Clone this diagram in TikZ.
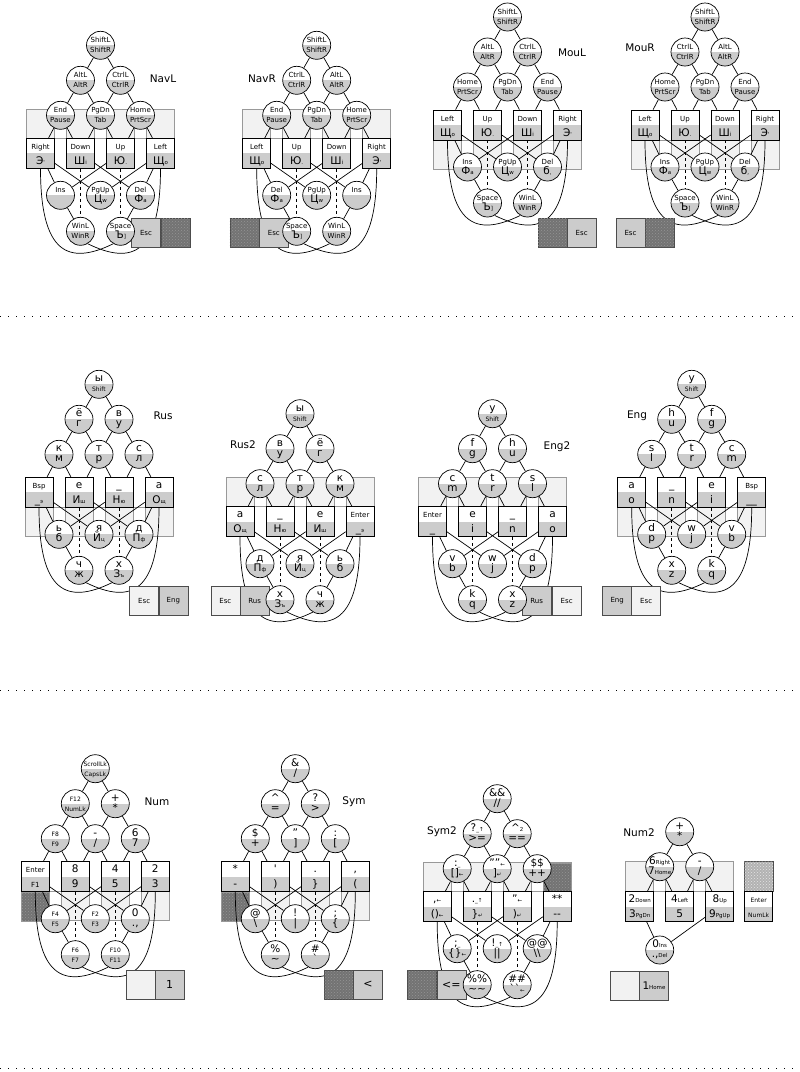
\documentclass[tikz,border=0pt]{standalone}
\usepackage{fontspec}
\setmainfont{DejaVu Sans}
\usetikzlibrary{backgrounds, patterns}

\newcommand\bigch[1]{{\fontsize{10.5}{11}\selectfont #1}}
\newcommand\smch[1]{{\fontsize{5.5}{6}\selectfont #1}}
\newcommand\tinych[1]{{\fontsize{6}{6.5}\selectfont #1}}

\tikzset{
  wire/.style={line width=0.7pt},
  halfgrey/.style={path picture={\fill[black!20] (path picture bounding box.west) rectangle (path picture bounding box.south east);}},
  hub/.style={circle, draw, line width=0.7pt, fill=white, halfgrey, minimum size=28pt, inner sep=0pt},
  capbox/.style={rectangle, draw, line width=0.7pt, fill=white, halfgrey, minimum width=28pt, minimum height=30pt, inner sep=0pt},
  toptext/.style={anchor=base, inner sep=0pt, font=\fontsize{7}{8}\selectfont},
  bottext/.style={anchor=base, inner sep=0pt, font=\fontsize{7}{8}\selectfont},
  boxtag/.style={rectangle, draw=black!70, line width=0.6pt, minimum width=29pt, minimum height=29pt, inner sep=0pt, font=\fontsize{7}{8}\selectfont},
  lighttag/.style={boxtag, fill=black!5},
  greytag/.style={boxtag, fill=black!20},
  grain/.style={fill=black!55, postaction={pattern=crosshatch dots, pattern color=black!42}},
  speckle/.style={fill=black!30, postaction={pattern=crosshatch dots, pattern color=black!10}},
  noisetag/.style={boxtag, grain},
  layername/.style={font=\fontsize{10.5}{12}\selectfont, inner sep=0pt},
  rowline/.style={line width=1pt, dash pattern=on 1pt off 7pt},
}

% circle with two labels
\newcommand\hubnode[5]{%
  \node[hub] (#1) at (#2,#3) {};
  \node[toptext] (#1t) at ([yshift=2.5pt]#1.center) {#4};
  \node[bottext] (#1b) at ([yshift=-7.5pt]#1.center) {#5};}
% key with two labels
\newcommand\capnode[5]{%
  \node[capbox] (#1) at (#2,#3) {};
  \node[toptext] (#1t) at ([yshift=4pt]#1.center) {#4};
  \node[bottext] (#1b) at ([yshift=-11pt]#1.center) {#5};}
% light band behind the keys
\newcommand\bandat[1]{%
  \draw[black!40, fill=black!5, line width=0.6pt] (\kx-14,#1) rectangle (\kx+134,#1+29);
  \foreach \gp in {0,40,80}
    \draw[black!40, fill=white, line width=0.6pt] (\kx+14+\gp,#1) rectangle (\kx+26+\gp,#1+29);}
% all connectors of one layout
\newcommand\wirenet[1]{%
  \draw[wire] (#1r1) -- (#1r2a) (#1r1) -- (#1r2b)
    (#1r2a) -- (#1r3a) (#1r2a) -- (#1r3b) (#1r2b) -- (#1r3b) (#1r2b) -- (#1r3c)
    (#1r3a) -- (#1k0) (#1r3a) -- (#1k1) (#1r3b) -- (#1k1) (#1r3b) -- (#1k2)
    (#1r3c) -- (#1k2) (#1r3c) -- (#1k3)
    (#1k0) -- (#1la) (#1k2) -- (#1la) (#1k0) -- (#1lb) (#1k3) -- (#1lb)
    (#1k1) -- (#1lc) (#1k3) -- (#1lc)
    (#1la) -- (#1ba) (#1lc) -- (#1bb);
  \draw[wire, dashed] (#1k1) -- (#1ba) (#1k2) -- (#1bb);
  \draw[wire] (#1k0.south) .. controls +(0,85) and +(-45,22) .. (#1bb.-120);
  \draw[wire] (#1k3.south) .. controls +(0,85) and +(45,22) .. (#1ba.-60);}

\begin{document}
\begin{tikzpicture}[x=1pt, y=-1pt]
\useasboundingbox (0,0) rectangle (800,1072);

% ---- NavL
\def\kx{40.5}\def\ky{138.3}
\node[greytag] (nlesc) at (146,233) {Esc};
\node[noisetag] (nlgrain) at (175.3,233) {};
\hubnode{nlr1}{\kx+60}{\ky-93}{ShiftL}{ShiftR}
\hubnode{nlr2a}{\kx+40}{\ky-58}{AltL}{AltR}
\hubnode{nlr2b}{\kx+80}{\ky-58}{CtrlL}{CtrlR}
\hubnode{nlr3a}{\kx+20}{\ky-23}{End}{Pause}
\hubnode{nlr3b}{\kx+60}{\ky-23}{PgDn}{Tab}
\hubnode{nlr3c}{\kx+100}{\ky-23}{Home}{PrtScr}
\capnode{nlk0}{\kx}{\ky+15}{Right}{\bigch{Э}\smch{\textquotesingle}}
\capnode{nlk1}{\kx+40}{\ky+15}{Down}{\bigch{Ш}\smch{i}}
\capnode{nlk2}{\kx+80}{\ky+15}{Up}{\bigch{Ю}\smch{.}}
\capnode{nlk3}{\kx+120}{\ky+15}{Left}{\bigch{Щ}\smch{o}}
\hubnode{nlla}{\kx+20}{\ky+57}{Ins}{}
\hubnode{nllb}{\kx+60}{\ky+57}{PgUp}{\bigch{Ц}\smch{w}}
\hubnode{nllc}{\kx+100}{\ky+57}{Del}{\bigch{Ф}\smch{a}}
\hubnode{nlba}{\kx+40}{\ky+93}{WinL}{WinR}
\hubnode{nlbb}{\kx+80}{\ky+93}{Space}{\bigch{Ъ}\smch{]}}
\node[layername] (nlname) at (163,79) {NavL};
\begin{scope}[on background layer]
  \bandat{\ky-29}
  \wirenet{nl}
\end{scope}

% ---- NavR
\def\kx{256.7}\def\ky{138.3}
\node[noisetag] (nrgrain) at (244.3,233) {};
\node[greytag] (nresc) at (273.8,233) {Esc};
\hubnode{nrr1}{\kx+60}{\ky-93}{ShiftL}{ShiftR}
\hubnode{nrr2a}{\kx+40}{\ky-58}{CtrlL}{CtrlR}
\hubnode{nrr2b}{\kx+80}{\ky-58}{AltL}{AltR}
\hubnode{nrr3a}{\kx+20}{\ky-23}{End}{Pause}
\hubnode{nrr3b}{\kx+60}{\ky-23}{PgDn}{Tab}
\hubnode{nrr3c}{\kx+100}{\ky-23}{Home}{PrtScr}
\capnode{nrk0}{\kx}{\ky+15}{Left}{\bigch{Щ}\smch{o}}
\capnode{nrk1}{\kx+40}{\ky+15}{Up}{\bigch{Ю}\smch{.}}
\capnode{nrk2}{\kx+80}{\ky+15}{Down}{\bigch{Ш}\smch{i}}
\capnode{nrk3}{\kx+120}{\ky+15}{Right}{\bigch{Э}\smch{\textquotesingle}}
\hubnode{nrla}{\kx+20}{\ky+57}{Del}{\bigch{Ф}\smch{a}}
\hubnode{nrlb}{\kx+60}{\ky+57}{PgUp}{\bigch{Ц}\smch{w}}
\hubnode{nrlc}{\kx+100}{\ky+57}{Ins}{}
\hubnode{nrba}{\kx+40}{\ky+93}{Space}{\bigch{Ъ}\smch{]}}
\hubnode{nrbb}{\kx+80}{\ky+93}{WinL}{WinR}
\node[layername] (nrname) at (262,79) {NavR};
\begin{scope}[on background layer]
  \bandat{\ky-29}
  \wirenet{nr}
\end{scope}

% ---- MouL
\def\kx{447.5}\def\ky{110}
\node[noisetag] (mlgrain) at (552.5,233) {};
\node[greytag] (mlesc) at (581.7,233) {Esc};
\hubnode{mlr1}{\kx+60}{\ky-93}{ShiftL}{ShiftR}
\hubnode{mlr2a}{\kx+40}{\ky-58}{AltL}{AltR}
\hubnode{mlr2b}{\kx+80}{\ky-58}{CtrlL}{CtrlR}
\hubnode{mlr3a}{\kx+20}{\ky-23}{Home}{PrtScr}
\hubnode{mlr3b}{\kx+60}{\ky-23}{PgDn}{Tab}
\hubnode{mlr3c}{\kx+100}{\ky-23}{End}{Pause}
\capnode{mlk0}{\kx}{\ky+15}{Left}{\bigch{Щ}\smch{o}}
\capnode{mlk1}{\kx+40}{\ky+15}{Up}{\bigch{Ю}\smch{.}}
\capnode{mlk2}{\kx+80}{\ky+15}{Down}{\bigch{Ш}\smch{i}}
\capnode{mlk3}{\kx+120}{\ky+15}{Right}{\bigch{Э}\smch{\textquotesingle}}
\hubnode{mlla}{\kx+20}{\ky+57}{Ins}{\bigch{Ф}\smch{a}}
\hubnode{mllb}{\kx+60}{\ky+57}{PgUp}{\bigch{Ц}\smch{w}}
\hubnode{mllc}{\kx+100}{\ky+57}{Del}{\bigch{б}\smch{,}}
\hubnode{mlba}{\kx+40}{\ky+93}{Space}{\bigch{Ъ}\smch{]}}
\hubnode{mlbb}{\kx+80}{\ky+93}{WinL}{WinR}
\node[layername] (mlname) at (572,53) {MouL};
\begin{scope}[on background layer]
  \bandat{\ky+30}
  \wirenet{ml}
\end{scope}

% ---- MouR
\def\kx{645}\def\ky{110}
\node[greytag] (mresc) at (630.5,233) {Esc};
\node[noisetag] (mrgrain) at (659.5,233) {};
\hubnode{mrr1}{\kx+60}{\ky-93}{ShiftL}{ShiftR}
\hubnode{mrr2a}{\kx+40}{\ky-58}{CtrlL}{CtrlR}
\hubnode{mrr2b}{\kx+80}{\ky-58}{AltL}{AltR}
\hubnode{mrr3a}{\kx+20}{\ky-23}{Home}{PrtScr}
\hubnode{mrr3b}{\kx+60}{\ky-23}{PgDn}{Tab}
\hubnode{mrr3c}{\kx+100}{\ky-23}{End}{Pause}
\capnode{mrk0}{\kx}{\ky+15}{Left}{\bigch{Щ}\smch{o}}
\capnode{mrk1}{\kx+40}{\ky+15}{Up}{\bigch{Ю}\smch{.}}
\capnode{mrk2}{\kx+80}{\ky+15}{Down}{\bigch{Ш}\smch{i}}
\capnode{mrk3}{\kx+120}{\ky+15}{Right}{\bigch{Э}\smch{\textquotesingle}}
\hubnode{mrla}{\kx+20}{\ky+57}{Ins}{\bigch{Ф}\smch{a}}
\hubnode{mrlb}{\kx+60}{\ky+57}{PgUp}{\bigch{Ц}\smch{w}}
\hubnode{mrlc}{\kx+100}{\ky+57}{Del}{\bigch{б}\smch{,}}
\hubnode{mrba}{\kx+40}{\ky+93}{Space}{\bigch{Ъ}\smch{]}}
\hubnode{mrbb}{\kx+80}{\ky+93}{WinL}{WinR}
\node[layername] (mrname) at (640,48) {MouR};
\begin{scope}[on background layer]
  \bandat{\ky+30}
  \wirenet{mr}
\end{scope}

\draw[rowline] (0,316) -- (800,316);

% ---- Rus
\def\kx{39}\def\ky{477.3}
\node[lighttag] (ruesc) at (144.2,600.8) {Esc};
\node[greytag] (rueng) at (173.3,600.8) {Eng};
\hubnode{rur1}{\kx+60}{\ky-93}{\bigch{ы}}{\tinych{Shift}}
\hubnode{rur2a}{\kx+40}{\ky-58}{\bigch{ё}}{\bigch{г}}
\hubnode{rur2b}{\kx+80}{\ky-58}{\bigch{в}}{\bigch{у}}
\hubnode{rur3a}{\kx+20}{\ky-23}{\bigch{к}}{\bigch{м}}
\hubnode{rur3b}{\kx+60}{\ky-23}{\bigch{т}}{\bigch{р}}
\hubnode{rur3c}{\kx+100}{\ky-23}{\bigch{с}}{\bigch{л}}
\capnode{ruk0}{\kx}{\ky+15}{Bsp}{\bigch{\_}\smch{э}}
\capnode{ruk1}{\kx+40}{\ky+15}{\bigch{е}}{\bigch{И}\smch{ш}}
\capnode{ruk2}{\kx+80}{\ky+15}{\bigch{\_}}{\bigch{Н}\smch{ю}}
\capnode{ruk3}{\kx+120}{\ky+15}{\bigch{а}}{\bigch{О}\smch{щ}}
\hubnode{rula}{\kx+20}{\ky+57}{\bigch{ь}}{\bigch{б}}
\hubnode{rulb}{\kx+60}{\ky+57}{\bigch{я}}{\bigch{Й}\smch{ц}}
\hubnode{rulc}{\kx+100}{\ky+57}{\bigch{д}}{\bigch{П}\smch{ф}}
\hubnode{ruba}{\kx+40}{\ky+93}{\bigch{ч}}{\bigch{ж}}
\hubnode{rubb}{\kx+80}{\ky+93}{\bigch{х}}{\bigch{З}\smch{ъ}}
\node[layername] (runame) at (163,416) {Rus};
\begin{scope}[on background layer]
  \bandat{\ky+30}
  \wirenet{ru}
\end{scope}

% ---- Rus2
\def\kx{240}\def\ky{506.7}
\node[lighttag] (rtesc) at (225.3,600.8) {Esc};
\node[greytag] (rtrus) at (254.7,600.8) {Rus};
\hubnode{rtr1}{\kx+60}{\ky-93}{\bigch{ы}}{\tinych{Shift}}
\hubnode{rtr2a}{\kx+40}{\ky-58}{\bigch{в}}{\bigch{у}}
\hubnode{rtr2b}{\kx+80}{\ky-58}{\bigch{ё}}{\bigch{г}}
\hubnode{rtr3a}{\kx+20}{\ky-23}{\bigch{с}}{\bigch{л}}
\hubnode{rtr3b}{\kx+60}{\ky-23}{\bigch{т}}{\bigch{р}}
\hubnode{rtr3c}{\kx+100}{\ky-23}{\bigch{к}}{\bigch{м}}
\capnode{rtk0}{\kx}{\ky+15}{\bigch{а}}{\bigch{О}\smch{щ}}
\capnode{rtk1}{\kx+40}{\ky+15}{\bigch{\_}}{\bigch{Н}\smch{ю}}
\capnode{rtk2}{\kx+80}{\ky+15}{\bigch{е}}{\bigch{И}\smch{ш}}
\capnode{rtk3}{\kx+120}{\ky+15}{Enter}{\bigch{\_}\smch{э}}
\hubnode{rtla}{\kx+20}{\ky+57}{\bigch{д}}{\bigch{П}\smch{ф}}
\hubnode{rtlb}{\kx+60}{\ky+57}{\bigch{я}}{\bigch{Й}\smch{ц}}
\hubnode{rtlc}{\kx+100}{\ky+57}{\bigch{ь}}{\bigch{б}}
\hubnode{rtba}{\kx+40}{\ky+93}{\bigch{х}}{\bigch{З}\smch{ъ}}
\hubnode{rtbb}{\kx+80}{\ky+93}{\bigch{ч}}{\bigch{ж}}
\node[layername] (rtname) at (243,445) {Rus2};
\begin{scope}[on background layer]
  \bandat{\ky-29}
  \wirenet{rt}
\end{scope}

% ---- Eng2
\def\kx{432.5}\def\ky{506.7}
\node[greytag] (etrus) at (536.7,600.8) {Rus};
\node[lighttag] (etesc) at (566.7,600.8) {Esc};
\hubnode{etr1}{\kx+60}{\ky-93}{\bigch{y}}{\tinych{Shift}}
\hubnode{etr2a}{\kx+40}{\ky-58}{\bigch{f}}{\bigch{g}}
\hubnode{etr2b}{\kx+80}{\ky-58}{\bigch{h}}{\bigch{u}}
\hubnode{etr3a}{\kx+20}{\ky-23}{\bigch{c}}{\bigch{m}}
\hubnode{etr3b}{\kx+60}{\ky-23}{\bigch{t}}{\bigch{r}}
\hubnode{etr3c}{\kx+100}{\ky-23}{\bigch{s}}{\bigch{l}}
\capnode{etk0}{\kx}{\ky+15}{Enter}{\bigch{\_}}
\capnode{etk1}{\kx+40}{\ky+15}{\bigch{e}}{\bigch{i}}
\capnode{etk2}{\kx+80}{\ky+15}{\bigch{\_}}{\bigch{n}}
\capnode{etk3}{\kx+120}{\ky+15}{\bigch{a}}{\bigch{o}}
\hubnode{etla}{\kx+20}{\ky+57}{\bigch{v}}{\bigch{b}}
\hubnode{etlb}{\kx+60}{\ky+57}{\bigch{w}}{\bigch{j}}
\hubnode{etlc}{\kx+100}{\ky+57}{\bigch{d}}{\bigch{p}}
\hubnode{etba}{\kx+40}{\ky+93}{\bigch{k}}{\bigch{q}}
\hubnode{etbb}{\kx+80}{\ky+93}{\bigch{x}}{\bigch{z}}
\node[layername] (etname) at (557,447) {Eng2};
\begin{scope}[on background layer]
  \bandat{\ky-29}
  \wirenet{et}
\end{scope}

% ---- Eng
\def\kx{631.7}\def\ky{477.3}
\node[greytag] (eneng) at (617.2,600.8) {Eng};
\node[lighttag] (enesc) at (646.2,600.8) {Esc};
\hubnode{enr1}{\kx+60}{\ky-93}{\bigch{y}}{\tinych{Shift}}
\hubnode{enr2a}{\kx+40}{\ky-58}{\bigch{h}}{\bigch{u}}
\hubnode{enr2b}{\kx+80}{\ky-58}{\bigch{f}}{\bigch{g}}
\hubnode{enr3a}{\kx+20}{\ky-23}{\bigch{s}}{\bigch{l}}
\hubnode{enr3b}{\kx+60}{\ky-23}{\bigch{t}}{\bigch{r}}
\hubnode{enr3c}{\kx+100}{\ky-23}{\bigch{c}}{\bigch{m}}
\capnode{enk0}{\kx}{\ky+15}{\bigch{a}}{\bigch{o}}
\capnode{enk1}{\kx+40}{\ky+15}{\bigch{\_}}{\bigch{n}}
\capnode{enk2}{\kx+80}{\ky+15}{\bigch{e}}{\bigch{i}}
\capnode{enk3}{\kx+120}{\ky+15}{Bsp}{\bigch{\_\_}}
\hubnode{enla}{\kx+20}{\ky+57}{\bigch{d}}{\bigch{p}}
\hubnode{enlb}{\kx+60}{\ky+57}{\bigch{w}}{\bigch{j}}
\hubnode{enlc}{\kx+100}{\ky+57}{\bigch{v}}{\bigch{b}}
\hubnode{enba}{\kx+40}{\ky+93}{\bigch{x}}{\bigch{z}}
\hubnode{enbb}{\kx+80}{\ky+93}{\bigch{k}}{\bigch{q}}
\node[layername] (enname) at (637,416) {Eng};
\begin{scope}[on background layer]
  \bandat{\ky+30}
  \wirenet{en}
\end{scope}

\draw[rowline] (0,690) -- (800,690);

% ---- Num
\def\kx{35.3}\def\ky{861.7}
\node[lighttag] (nmblank) at (140.5,984.7) {};
\node[greytag, font=\fontsize{11}{12}\selectfont] (nmone) at (169.5,984.7) {1};
\hubnode{nmr1}{\kx+60}{\ky-93}{\tinych{ScrollLk}}{\tinych{CapsLk}}
\hubnode{nmr2a}{\kx+40}{\ky-58}{\tinych{F12}}{\tinych{NumLk}}
\hubnode{nmr2b}{\kx+80}{\ky-58}{\bigch{+}}{\bigch{*}}
\hubnode{nmr3a}{\kx+20}{\ky-23}{\tinych{F8}}{\tinych{F9}}
\hubnode{nmr3b}{\kx+60}{\ky-23}{\bigch{-}}{\bigch{/}}
\hubnode{nmr3c}{\kx+100}{\ky-23}{\bigch{6}}{\bigch{7}}
\capnode{nmk0}{\kx}{\ky+15}{Enter}{F1}
\capnode{nmk1}{\kx+40}{\ky+15}{\bigch{8}}{\bigch{9}}
\capnode{nmk2}{\kx+80}{\ky+15}{\bigch{4}}{\bigch{5}}
\capnode{nmk3}{\kx+120}{\ky+15}{\bigch{2}}{\bigch{3}}
\hubnode{nmla}{\kx+20}{\ky+57}{\tinych{F4}}{\tinych{F5}}
\hubnode{nmlb}{\kx+60}{\ky+57}{\tinych{F2}}{\tinych{F3}}
\hubnode{nmlc}{\kx+100}{\ky+57}{\bigch{0}}{\bigch{.,}}
\hubnode{nmba}{\kx+40}{\ky+93}{\tinych{F6}}{\tinych{F7}}
\hubnode{nmbb}{\kx+80}{\ky+93}{\tinych{F10}}{\tinych{F11}}
\node[layername] (nmname) at (157,802) {Num};
\begin{scope}[on background layer]
  \bandat{\ky+30}
  \draw[black!40, grain] (\kx-14,\ky+30) rectangle (\kx+14,\ky+59);
  \wirenet{nm}
\end{scope}

% ---- Sym
\def\kx{235.3}\def\ky{861.7}
\node[noisetag] (sygrain) at (338.7,984.7) {};
\node[greytag, font=\fontsize{11}{12}\selectfont] (syless) at (368,984.7) {<};
\hubnode{syr1}{\kx+60}{\ky-93}{\bigch{\&}}{\bigch{/}}
\hubnode{syr2a}{\kx+40}{\ky-58}{\bigch{\textasciicircum}}{\bigch{=}}
\hubnode{syr2b}{\kx+80}{\ky-58}{\bigch{?}}{\bigch{>}}
\hubnode{syr3a}{\kx+20}{\ky-23}{\bigch{\$}}{\bigch{+}}
\hubnode{syr3b}{\kx+60}{\ky-23}{\bigch{"}}{\bigch{]}}
\hubnode{syr3c}{\kx+100}{\ky-23}{\bigch{:}}{\bigch{[}}
\capnode{syk0}{\kx}{\ky+15}{\bigch{*}}{\bigch{-}}
\capnode{syk1}{\kx+40}{\ky+15}{\bigch{\textquotesingle}}{\bigch{)}}
\capnode{syk2}{\kx+80}{\ky+15}{\bigch{.}}{\bigch{\}}}
\capnode{syk3}{\kx+120}{\ky+15}{\bigch{,}}{\bigch{(}}
\hubnode{syla}{\kx+20}{\ky+57}{\bigch{@}}{\bigch{\textbackslash}}
\hubnode{sylb}{\kx+60}{\ky+57}{\bigch{!}}{\bigch{|}}
\hubnode{sylc}{\kx+100}{\ky+57}{\bigch{;}}{\bigch{\{}}
\hubnode{syba}{\kx+40}{\ky+93}{\bigch{\%}}{\bigch{\textasciitilde}}
\hubnode{sybb}{\kx+80}{\ky+93}{\bigch{\#}}{\bigch{\textasciigrave}}
\node[layername] (syname) at (354,802) {Sym};
\begin{scope}[on background layer]
  \bandat{\ky+30}
  \draw[black!40, grain] (\kx-14,\ky+30) rectangle (\kx+14,\ky+59);
  \wirenet{sy}
\end{scope}

% ---- Sym2
\def\kx{437.2}\def\ky{891.7}
\node[noisetag] (stgrain) at (422,985) {};
\node[greytag, font=\fontsize{11}{12}\selectfont] (stle) at (451.3,985) {<=};
\hubnode{str1}{\kx+60}{\ky-93}{\bigch{\&\&}}{\bigch{//}}
\hubnode{str2a}{\kx+40}{\ky-58}{\bigch{?}\smch{\_↑}}{\bigch{>=}}
\hubnode{str2b}{\kx+80}{\ky-58}{\bigch{\textasciicircum}\smch{2}}{\bigch{==}}
\hubnode{str3a}{\kx+20}{\ky-23}{\bigch{:}\smch{\_}}{\bigch{[]}\smch{←}}
\hubnode{str3b}{\kx+60}{\ky-23}{\bigch{""}\smch{←}}{\bigch{]}\smch{↵}}
\hubnode{str3c}{\kx+100}{\ky-23}{\bigch{\$\$}}{\bigch{++}}
\capnode{stk0}{\kx}{\ky+15}{\bigch{,}\smch{←}}{\bigch{()}\smch{←}}
\capnode{stk1}{\kx+40}{\ky+15}{\bigch{.}\smch{\_↑}}{\bigch{\}}\smch{↵}}
\capnode{stk2}{\kx+80}{\ky+15}{\bigch{"}\smch{←}}{\bigch{)}\smch{↵}}
\capnode{stk3}{\kx+120}{\ky+15}{\bigch{**}}{\bigch{-{}-}}
\hubnode{stla}{\kx+20}{\ky+57}{\bigch{;}\smch{\_}}{\bigch{\{\}}\smch{←}}
\hubnode{stlb}{\kx+60}{\ky+57}{\bigch{!}\smch{\_↑}}{\bigch{||}}
\hubnode{stlc}{\kx+100}{\ky+57}{\bigch{@@}}{\bigch{\textbackslash\textbackslash}}
\hubnode{stba}{\kx+40}{\ky+93}{\bigch{\%\%}}{\bigch{\textasciitilde\textasciitilde}}
\hubnode{stbb}{\kx+80}{\ky+93}{\bigch{\#\#}}{\bigch{\textasciigrave\textasciigrave}\smch{←}}
\node[layername] (stname) at (442,832) {Sym2};
\begin{scope}[on background layer]
  \bandat{\ky-29}
  \draw[black!40, grain] (\kx+106,\ky-29) rectangle (\kx+134,\ky);
  \wirenet{st}
\end{scope}

% ---- Num2
\node[lighttag] (ntblank) at (624.7,985.3) {};
\node[greytag] (nthome) at (654,985.3) {\bigch{1}\smch{Home}};
\node[boxtag, speckle, minimum height=30pt] (ntspeck) at (758.7,876.7) {};
\capnode{ntent}{758.7}{906.7}{\tinych{Enter}}{\tinych{NumLk}}
\hubnode{ntr1}{679.7}{831.7}{\bigch{+}}{\bigch{*}}
\hubnode{nta}{659.7}{866.7}{\bigch{6}\smch{Right}}{\bigch{7}\smch{Home}}
\hubnode{ntb}{699.7}{866.7}{\bigch{-}}{\bigch{/}}
\capnode{ntk0}{639.7}{906.7}{\bigch{2}\smch{Down}}{\bigch{3}\smch{PgDn}}
\capnode{ntk1}{679.7}{906.7}{\bigch{4}\smch{Left}}{\bigch{5}}
\capnode{ntk2}{719.7}{906.7}{\bigch{8}\smch{Up}}{\bigch{9}\smch{PgUp}}
\hubnode{ntz}{659.7}{950}{\bigch{0}\smch{Ins}}{\bigch{.,}\smch{Del}}
\node[layername] (ntname) at (639,833) {Num2};
\begin{scope}[on background layer]
  \draw[black!40, fill=black!5, line width=0.6pt] (625.7,861.7) rectangle (733.7,891.7);
  \foreach \gp in {0,40}
    \draw[black!40, fill=white, line width=0.6pt] (653.7+\gp,861.7) rectangle (665.7+\gp,891.7);
  \draw[wire] (ntr1) -- (nta) (ntr1) -- (ntb)
    (nta) -- (ntk0) (nta) -- (ntk1) (ntb) -- (ntk1) (ntb) -- (ntk2)
    (ntk0) -- (ntz) (ntk2) -- (ntz);
\end{scope}

\draw[rowline] (0,1068) -- (800,1068);
\end{tikzpicture}
\end{document}
